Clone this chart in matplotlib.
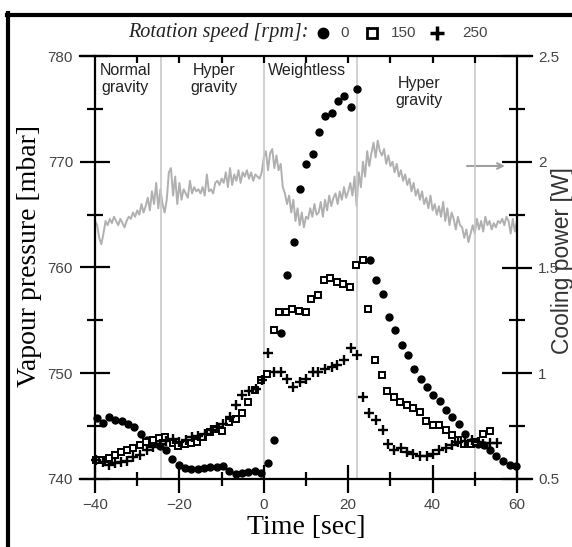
import matplotlib
matplotlib.use('Agg')
import numpy as np
import matplotlib.pyplot as plt
from matplotlib.lines import Line2D

# cooling power trace (right axis), sampled every 0.5 s from -40 to 60
power_t = np.arange(-40, 60.01, 0.5)
power_w = [1.72, 1.70, 1.64, 1.61, 1.66, 1.72, 1.70, 1.73, 1.71, 1.74,
           1.72, 1.70, 1.73, 1.71, 1.69, 1.72, 1.74, 1.73, 1.76, 1.74,
           1.77, 1.75, 1.80, 1.76, 1.79, 1.83, 1.77, 1.86, 1.80, 1.90,
           1.78, 1.87, 1.80, 1.76, 1.82, 1.95, 1.97, 1.84, 1.93, 1.80,
           1.90, 1.82, 1.87, 1.85, 1.83, 1.91, 1.85, 1.88, 1.86, 1.87,
           1.85, 1.88, 1.84, 1.94, 1.86, 1.87, 1.85, 1.90, 1.91, 1.89,
           1.92, 1.90, 1.95, 1.88, 1.97, 1.89, 1.94, 1.91, 1.96, 1.90,
           1.95, 1.93, 1.96, 1.92, 1.95, 1.91, 1.94, 1.93, 1.92, 1.95,
           2.02, 2.05, 1.96, 2.04, 2.06, 1.97, 2.03, 1.96, 1.99, 1.88,
           1.85, 1.80, 1.84, 1.76, 1.82, 1.72, 1.78, 1.70, 1.76, 1.69,
           1.74, 1.73, 1.78, 1.74, 1.80, 1.75, 1.76, 1.81, 1.74, 1.82,
           1.77, 1.84, 1.79, 1.83, 1.85, 1.80, 1.86, 1.82, 1.88, 1.83,
           1.86, 1.90, 1.84, 1.93, 1.79, 1.95, 1.88, 2.00, 1.93, 2.05,
           1.98, 2.04, 2.09, 2.02, 2.10, 2.05, 2.03, 2.06, 1.99, 2.03,
           1.98, 2.00, 1.95, 1.99, 1.93, 1.96, 1.91, 1.94, 1.89, 1.92,
           1.86, 1.90, 1.84, 1.87, 1.82, 1.86, 1.80, 1.83, 1.78, 1.84,
           1.77, 1.80, 1.75, 1.79, 1.74, 1.81, 1.72, 1.78, 1.70, 1.76,
           1.73, 1.68, 1.74, 1.70, 1.69, 1.64, 1.68, 1.62, 1.66, 1.70,
           1.66, 1.73, 1.68, 1.72, 1.67, 1.74, 1.70, 1.72, 1.68, 1.71,
           1.69, 1.72, 1.71, 1.73, 1.70, 1.74, 1.72, 1.66, 1.73, 1.67,
           1.72]

# 0 rpm
t0 = [-39.6, -38.2, -36.7, -35.2, -33.7, -32.2, -30.7, -29.2, -27.7, -26.2,
      -24.7, -23.2, -21.7, -20.2, -18.7, -17.2, -15.7, -14.2, -12.7, -11.2,
      -9.7, -8.2, -6.7, -5.2, -3.7, -2.2, -0.7, 1.0, 2.5, 4.1,
      5.6, 7.1, 8.6, 10.1, 11.6, 13.1, 14.6, 16.1, 17.6, 19.1,
      20.7, 22.2, 25.2, 26.7, 28.3, 29.7, 31.2, 32.7, 34.2, 35.6,
      37.2, 38.7, 40.1, 41.7, 43.2, 44.7, 46.2, 47.7, 49.2, 50.7,
      52.1, 53.6, 55.1, 56.8, 58.3, 59.8]
p0 = [745.8, 745.3, 745.9, 745.6, 745.5, 745.2, 744.9, 744.3, 743.7, 743.4,
      743.1, 742.7, 741.9, 741.3, 741.0, 740.9, 740.9, 741.0, 741.1, 741.1,
      741.2, 740.8, 740.5, 740.6, 740.7, 740.8, 740.6, 741.5, 743.7, 753.8,
      759.3, 762.4, 767.4, 769.8, 770.7, 772.8, 774.3, 774.6, 775.7, 776.2,
      775.2, 776.9, 760.7, 758.8, 757.5, 755.3, 754.1, 752.7, 751.7, 750.4,
      749.5, 748.7, 747.9, 747.4, 746.5, 745.9, 745.2, 744.3, 743.5, 743.3,
      743.2, 742.7, 742.2, 741.7, 741.3, 741.2]

# 150 rpm
t150 = [-39.7, -38.4, -36.8, -35.3, -33.8, -32.5, -30.9, -29.3, -27.9, -26.3,
        -24.8, -23.3, -21.6, -20.3, -18.7, -17.3, -15.8, -14.3, -12.7, -11.3,
        -9.8, -8.2, -6.7, -5.2, -3.7, -2.1, -0.7, 0.7, 2.3, 3.7,
        5.3, 6.8, 8.4, 9.9, 11.3, 12.9, 14.3, 15.8, 17.4, 18.8,
        20.4, 21.8, 23.4, 24.8, 26.4, 27.9, 29.3, 30.9, 32.3, 33.9,
        35.4, 37.0, 38.4, 40.0, 41.6, 43.2, 44.5, 46.1, 47.5, 49.1,
        50.4, 52.0, 53.6]
p150 = [741.8, 741.8, 742.0, 742.3, 742.6, 742.7, 742.9, 743.2, 743.5, 743.7,
        743.9, 744.0, 743.4, 743.1, 743.3, 743.4, 743.5, 744.0, 744.4, 744.7,
        744.5, 745.4, 745.7, 746.2, 747.3, 748.4, 749.4, 749.9, 754.1, 755.8,
        755.8, 756.1, 755.9, 755.8, 757.0, 757.4, 758.8, 759.0, 758.6, 758.4,
        758.2, 760.2, 760.7, 756.1, 751.3, 749.8, 748.3, 747.8, 747.3, 747.0,
        746.7, 746.3, 745.5, 745.1, 745.1, 744.6, 744.2, 743.7, 743.3, 743.3,
        743.5, 744.3, 744.5]

# 250 rpm
t250 = [-39.7, -38.2, -36.8, -35.3, -33.8, -32.5, -30.9, -29.3, -27.6, -26.2,
        -24.7, -23.2, -21.6, -20.1, -18.5, -17.0, -15.5, -13.9, -12.6, -11.0,
        -9.6, -8.0, -6.6, -5.1, -3.5, -1.9, -0.5, 0.9, 2.4, 4.0,
        5.6, 7.0, 8.6, 10.1, 11.6, 12.9, 14.5, 16.1, 17.4, 19.1,
        20.6, 22.0, 23.6, 25.0, 26.6, 28.2, 29.5, 30.9, 32.4, 33.9,
        35.4, 37.0, 38.6, 40.0, 41.6, 43.2, 44.7, 46.1, 47.7, 49.3,
        50.7, 52.0, 53.6, 55.2]
p250 = [741.8, 741.6, 741.3, 741.5, 741.6, 741.7, 742.1, 742.3, 742.7, 743.0,
        743.3, 743.6, 743.8, 743.5, 743.7, 744.0, 744.1, 744.3, 744.6, 744.9,
        745.2, 745.9, 747.0, 747.9, 748.3, 748.5, 749.4, 751.9, 750.1, 750.1,
        749.5, 748.7, 749.2, 749.5, 750.1, 750.1, 750.4, 750.6, 750.8, 751.3,
        752.4, 751.7, 747.8, 746.2, 745.6, 744.6, 743.3, 742.7, 742.9, 742.6,
        742.4, 742.2, 742.2, 742.4, 742.7, 742.9, 743.2, 743.5, 743.6, 743.7,
        743.5, 743.3, 743.4, 743.4]

phase_bounds = [-24.4, 0, 22, 50]
phase_names = ['Normal\ngravity', 'Hyper\ngravity', 'Weightless', 'Hyper\ngravity']
phase_x = [-32.8, -11.8, 10.2, 36.8]
phase_y = [779.3, 779.3, 779.3, 778.1]

sans = 'Liberation Sans'
serif = 'Liberation Serif'
tick_col = '#444444'

W, H = 572, 547
fig = plt.figure(figsize=(W / 100, H / 100), dpi=100)
ax = fig.add_axes([80 / W, (H - 479) / H, (532 - 80) / W, (479 - 56) / H])
ax2 = ax.twinx()

xl = (-40 - 15 / 4.22, 60 + 15 / 4.22)
ax.set_xlim(xl)
ax.set_ylim(740, 780)
ax2.set_ylim(0.5, 2.5)

# cooling power
ax2.plot(power_t, power_w, color='#b0b0b0', lw=1.4)
ax2.annotate('', xy=(57.8, 1.98), xytext=(47.5, 1.98),
             arrowprops=dict(arrowstyle='->', color='#a0a0a0', lw=1.5))

for b in phase_bounds:
    ax.axvline(b, color='#c8c8c8', lw=1.2, zorder=0)
for x, y, s in zip(phase_x, phase_y, phase_names):
    ax.text(x, y, s, ha='center', va='top', fontsize=11.5, family=sans,
            color='#222222', linespacing=1.15)

ax.plot(t0, p0, 'o', color='black', ms=5, mec='black')
ax.plot(t150, p150, 's', mfc='white', mec='black', mew=1.4, ms=5)
ax.plot(t250, p250, '+', color='black', mew=1.7, ms=7)

ax.set_zorder(ax2.get_zorder() + 1)
ax.patch.set_visible(False)

# spines
ax.spines['right'].set_visible(False)
for s in ['left', 'top', 'bottom']:
    ax2.spines[s].set_visible(False)
ax.spines['left'].set_position(('data', -40))
ax2.spines['right'].set_position(('data', 60))
for sp in [ax.spines['left'], ax.spines['top'], ax.spines['bottom'], ax2.spines['right']]:
    sp.set_linewidth(1.6)

ax.set_xticks([-40, -20, 0, 20, 40, 60])
ax.set_xticks([-30, -10, 10, 30, 50], minor=True)
ax.set_yticks([740, 750, 760, 770, 780])
ax.set_yticks([745, 755, 765, 775], minor=True)
ax2.set_yticks([0.5, 1, 1.5, 2, 2.5])
ax2.set_yticklabels(['0.5', '1', '1.5', '2', '2.5'])
ax2.set_yticks([0.75, 1.25, 1.75, 2.25], minor=True)

ax.tick_params(axis='x', which='major', direction='inout', length=20, width=1.6,
               pad=4, labelsize=11, labelcolor=tick_col)
ax.tick_params(axis='x', which='minor', direction='inout', length=10, width=1.6)
ax.tick_params(axis='y', which='major', direction='inout', length=21.6, width=1.6,
               pad=5, labelsize=11, labelcolor=tick_col)
ax.tick_params(axis='y', which='minor', direction='inout', length=11.5, width=1.6)
ax2.tick_params(axis='y', which='major', direction='inout', length=21.6, width=1.6,
                pad=4.5, labelsize=11, labelcolor=tick_col)
ax2.tick_params(axis='y', which='minor', direction='inout', length=11.5, width=1.6)
for lab in ax.get_xticklabels() + ax.get_yticklabels() + ax2.get_yticklabels():
    lab.set_family(sans)

top = ax.secondary_xaxis('top')
top.set_xticks(np.arange(-30, 51, 10))
top.tick_params(direction='in', length=5, width=1.6, labeltop=False)
top.spines['top'].set_visible(False)

# axis labels
fig.text(30 / W, 1 - 256 / H, 'Vapour pressure [mbar]', rotation=90, ha='center',
         va='center', fontsize=20, family=serif)
fig.text(306 / W, 1 - 528 / H, 'Time [sec]', ha='center', va='center',
         fontsize=20, family=serif)
fig.text(562 / W, 1 - 261 / H, 'Cooling power [W]', rotation=90, ha='center',
         va='center', fontsize=16.5, family=sans, color='#333333')

# legend strip on top
fy = 1 - 33 / H
fig.text(128 / W, fy, 'Rotation speed [rpm]:', ha='left', va='center',
         fontsize=14.5, family=serif, style='italic', color='#222222')
fig.add_artist(Line2D([323 / W], [fy], marker='o', ms=7.5, color='black', ls='none'))
fig.text(345 / W, fy, '0', ha='center', va='center', fontsize=11, family=sans, color=tick_col)
fig.add_artist(Line2D([372 / W], [fy], marker='s', ms=7, mfc='white', mec='black',
                      mew=2, ls='none'))
fig.text(391 / W, fy, '150', ha='left', va='center', fontsize=11, family=sans, color=tick_col)
fig.add_artist(Line2D([437 / W], [fy], marker='+', ms=10, mew=2.5, color='black', ls='none'))
fig.text(462 / W, fy, '250', ha='left', va='center', fontsize=11, family=sans, color=tick_col)

# black frame on left and top
fig.add_artist(Line2D([8 / W, 8 / W], [0, 1 - 13 / H], color='black', lw=3))
fig.add_artist(Line2D([6.9 / W, 1], [1 - 15 / H, 1 - 15 / H], color='black', lw=3))

fig.savefig('out.png', dpi=100)
